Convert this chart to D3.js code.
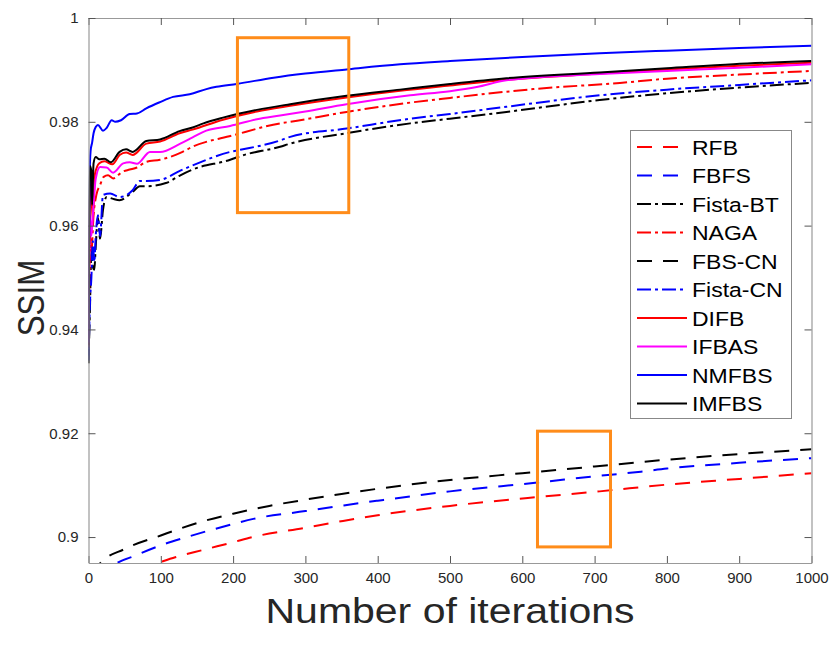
<!DOCTYPE html>
<html>
<head>
<meta charset="utf-8">
<script src="https://cdn.jsdelivr.net/npm/d3@7"></script>
<style>
  body { margin: 0; background: #fff; }
  text { font-family: "Liberation Sans", Arial, Helvetica, sans-serif; }
</style>
</head>
<body>
<svg id="canvas" width="832" height="656"></svg>
<script>
// ---- data: [iteration, SSIM] ----
const rfb = [[34,0.8919],[60,0.8935],[89,0.8947],[120,0.8961],[158,0.8975],[200,0.899],[227,0.9],[300,0.9018],[352,0.9031],[400,0.9042],[500,0.906],[620,0.9077],[707,0.9088],[800,0.9101],[900,0.9112],[1000,0.9123]]
const fbfs = [[13,0.8918],[34,0.8945],[66,0.8965],[100,0.8984],[136,0.9],[200,0.9025],[228,0.9035],[300,0.905],[353,0.9061],[400,0.907],[500,0.9088],[621,0.9105],[700,0.9117],[764,0.9126],[800,0.9132],[900,0.9143],[1000,0.9152]]
const fistaBT = [[0,0.9335],[2,0.944],[4,0.955],[6,0.952],[8,0.9515],[10,0.956],[13,0.9615],[16,0.9575],[20,0.963],[25,0.9655],[33,0.9652],[43,0.9649],[61,0.9665],[71,0.9676],[80,0.9676],[107,0.9682],[127,0.9697],[144,0.9708],[196,0.9727],[210,0.9734],[265,0.9752],[279,0.9758],[357,0.9778],[445,0.9797],[500,0.9806],[578,0.9819],[707,0.9842],[800,0.9855],[900,0.9866],[1000,0.9875]]
const naga = [[0,0.937],[1,0.948],[2,0.958],[4,0.955],[7,0.962],[11,0.966],[16,0.9678],[21,0.9694],[27,0.9697],[34,0.9691],[47,0.9704],[57,0.9708],[67,0.9712],[80,0.9723],[99,0.9727],[127,0.974],[144,0.9752],[200,0.9774],[265,0.9797],[279,0.98],[357,0.9819],[445,0.9837],[500,0.9846],[615,0.9863],[735,0.9875],[800,0.9883],[900,0.9891],[1000,0.9898]]
const fbsCN = [[8,0.8925],[16,0.8949],[50,0.8977],[100,0.9003],[150,0.9027],[200,0.9045],[250,0.906],[300,0.9072],[350,0.9083],[400,0.9093],[500,0.911],[600,0.9123],[700,0.9136],[800,0.9149],[900,0.916],[1000,0.9169]]
const fistaCN = [[0,0.934],[2,0.945],[4,0.95],[6,0.957],[8,0.953],[10,0.958],[13,0.962],[16,0.958],[20,0.9659],[30,0.9662],[43,0.9655],[61,0.9668],[71,0.9686],[80,0.9686],[99,0.9688],[127,0.9706],[144,0.9716],[196,0.9742],[210,0.9746],[265,0.9764],[279,0.9771],[357,0.9787],[445,0.9806],[500,0.9815],[578,0.9829],[707,0.9851],[800,0.9862],[900,0.9871],[1000,0.988]]
const difb = [[0,0.9365],[1,0.955],[2,0.968],[4,0.966],[6,0.961],[9,0.97],[15,0.972],[22,0.9724],[33,0.9718],[43,0.9736],[52,0.9741],[61,0.9736],[80,0.9758],[99,0.9762],[126,0.9778],[144,0.9785],[186,0.9804],[233,0.982],[279,0.9831],[357,0.9847],[431,0.986],[500,0.987],[578,0.9881],[707,0.9893],[800,0.9901],[900,0.9908],[1000,0.9914]]
const ifbas = [[0,0.9375],[1,0.952],[2,0.962],[4,0.958],[6,0.962],[10,0.969],[16,0.9713],[25,0.9712],[34,0.9702],[48,0.972],[57,0.9722],[67,0.9719],[85,0.9742],[99,0.9742],[127,0.9758],[144,0.977],[163,0.9783],[196,0.9792],[233,0.9805],[265,0.9812],[300,0.982],[357,0.9834],[445,0.9851],[500,0.9859],[537,0.9867],[578,0.988],[707,0.9892],[800,0.9898],[900,0.9904],[1000,0.9911]]
const nmfbs = [[0,0.935],[1,0.96],[2,0.972],[3,0.9745],[5,0.976],[7,0.9778],[10,0.979],[13,0.9794],[20,0.9783],[25,0.9788],[32,0.9803],[37,0.98],[45,0.9803],[57,0.9815],[67,0.9816],[80,0.9826],[99,0.9838],[117,0.9848],[140,0.9853],[163,0.9863],[177,0.98675],[205,0.9873],[256,0.9885],[300,0.9893],[357,0.9901],[431,0.99107],[500,0.9917],[600,0.9925],[707,0.9932],[800,0.9937],[900,0.9942],[1000,0.99466]]
const imfbs = [[0,0.9335],[1,0.962],[2,0.9715],[4,0.9705],[5,0.964],[7,0.972],[10,0.9732],[15,0.9728],[22,0.9729],[31,0.9722],[43,0.9742],[52,0.9747],[61,0.9742],[80,0.9763],[99,0.9766],[126,0.9782],[144,0.9789],[159,0.9797],[186,0.9808],[233,0.9823],[279,0.9834],[357,0.985],[431,0.9862],[500,0.9873],[578,0.9884],[707,0.9895],[800,0.9903],[892,0.9911],[1000,0.9917]]

const seriesNames = ['RFB','FBFS','Fista-BT','NAGA','FBS-CN','Fista-CN','DIFB','IFBAS','NMFBS','IMFBS']
const seriesData = [rfb, fbfs, fistaBT, naga, fbsCN, fistaCN, difb, ifbas, nmfbs, imfbs]
const seriesColors = ['#ff0000','#0000ff','#000000','#ff0000','#000000','#0000ff','#ff0000','#ff00ff','#0000ff','#000000']
const seriesStyles = ['dash','dash','dashdot','dashdot','dash','dashdot','solid','solid','solid','solid']

const xTicks = [0,100,200,300,400,500,600,700,800,900,1000]
const yTicks = [0.9,0.92,0.94,0.96,0.98,1]
// zoom boxes drawn on the figure: [x0, x1, y0, y1] in data units
const zoomBoxes = [[206,360,0.9625,0.9962],[621,722,0.8981,0.9204]]

const dashes = { dash: '15,11', dashdot: '14,4,3,4', solid: null }

let svg = d3.select('#canvas')
let mLeft = 88.5, mRight = 811.5, mTop = 18, mBottom = 563

let x = d3.scaleLinear().domain([0, 1000]).range([mLeft, mRight])
let y = d3.scaleLinear().domain([0.895, 1]).range([mBottom, mTop])

svg.append('clipPath').attr('id', 'clip')
    .append('rect').attr('x', mLeft).attr('y', mTop)
    .attr('width', mRight - mLeft).attr('height', mBottom - mTop)

let plot = svg.append('g').attr('clip-path', 'url(#clip)')

let line = d3.line()
    .x(d => x(d[0]))
    .y(d => y(d[1]))
    .curve(d3.curveMonotoneX)

seriesData.forEach((data, i) => {
    plot.append('path')
        .attr('d', line(data))
        .attr('fill', 'none')
        .attr('stroke', seriesColors[i])
        .attr('stroke-width', 2)
        .attr('stroke-dasharray', dashes[seriesStyles[i]])
})

// orange zoom boxes
zoomBoxes.forEach(b => {
    svg.append('rect')
        .attr('x', x(b[0])).attr('y', y(b[3]))
        .attr('width', x(b[1]) - x(b[0]))
        .attr('height', y(b[2]) - y(b[3]))
        .attr('fill', 'none')
        .attr('stroke', '#ff8c1a')
        .attr('stroke-width', 3)
})

// axes (box with inward ticks)
let axisColor = '#999'
let bottomAxis = svg.append('g').attr('transform', 'translate(0,' + mBottom + ')')
    .call(d3.axisBottom(x).tickValues(xTicks).tickSizeInner(-7).tickSizeOuter(0).tickPadding(9).tickFormat(d3.format('d')))
let topAxis = svg.append('g').attr('transform', 'translate(0,' + mTop + ')')
    .call(d3.axisTop(x).tickValues(xTicks).tickSizeInner(-7).tickSizeOuter(0).tickFormat(''))
let leftAxis = svg.append('g').attr('transform', 'translate(' + mLeft + ',0)')
    .call(d3.axisLeft(y).tickValues(yTicks).tickSizeInner(-7).tickSizeOuter(0).tickPadding(10).tickFormat(d3.format('~g')))
let rightAxis = svg.append('g').attr('transform', 'translate(' + mRight + ',0)')
    .call(d3.axisRight(y).tickValues(yTicks).tickSizeInner(-7).tickSizeOuter(0).tickFormat(''))

;[bottomAxis, topAxis, leftAxis, rightAxis].forEach(a => {
    a.select('.domain').attr('stroke', axisColor).attr('stroke-width', 1.2)
    a.selectAll('.tick line').attr('stroke', '#555').attr('stroke-width', 1)
    a.selectAll('.tick text').attr('fill', '#262626').style('font-size', '15px')
        .style('font-family', '"Liberation Sans", Arial, sans-serif')
})

svg.append('text')
    .attr('transform', 'translate(450,623) scale(1,0.87)')
    .attr('text-anchor', 'middle')
    .style('font-size', '41px')
    .attr('fill', '#262626')
    .text('Number of iterations')

svg.append('text')
    .attr('transform', 'translate(44,298) rotate(-90) scale(0.87,1)')
    .attr('text-anchor', 'middle')
    .style('font-size', '36px')
    .attr('fill', '#262626')
    .text('SSIM')

// legend
let legend = svg.append('g')
legend.append('rect')
    .attr('x', 630.5).attr('y', 130.5).attr('width', 161).attr('height', 288)
    .attr('fill', '#fff').attr('stroke', '#888').attr('stroke-width', 1)

seriesNames.forEach((name, i) => {
    let ly = 147 + i * 28.5
    legend.append('line')
        .attr('x1', 637).attr('x2', 687).attr('y1', ly).attr('y2', ly)
        .attr('stroke', seriesColors[i]).attr('stroke-width', 2)
        .attr('stroke-dasharray', dashes[seriesStyles[i]])
    legend.append('text')
        .attr('transform', 'translate(692,' + (ly + 7.5) + ') scale(1,0.9)')
        .style('font-size', '23px')
        .attr('fill', '#000')
        .text(name)
})
</script>
</body>
</html>
